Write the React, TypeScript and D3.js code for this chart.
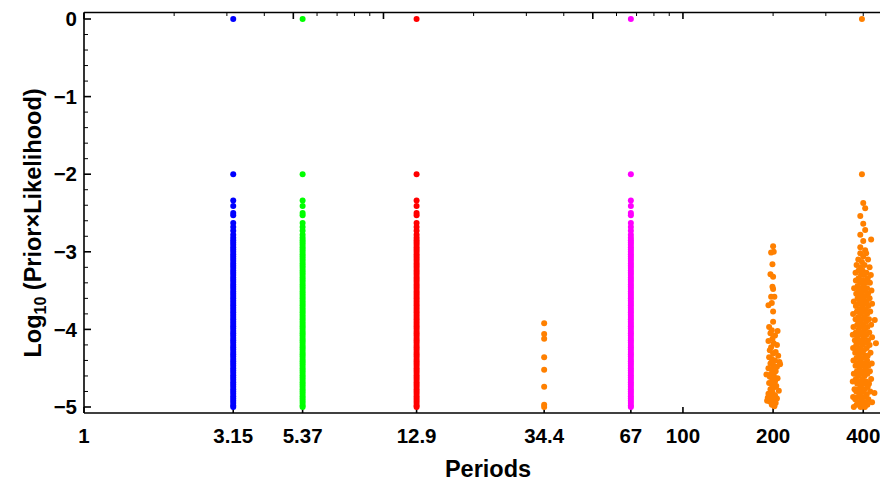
import React from "react";
import * as d3 from "d3";

// ---- data ----
const xTickValues = [1, 3.15, 5.37, 12.9, 34.4, 67, 100, 200, 400];
const xTickLabels = ["1", "3.15", "5.37", "12.9", "34.4", "67", "100", "200", "400"];
const yTickValues = [0, -1, -2, -3, -4, -5];

const columnPeriods = [3.15, 5.37, 12.9, 67];
const columnColors = ["#0000ff", "#00ff00", "#ff0000", "#ff00ff"];
const columnValues = [
  0, -2, -2.34, -2.41, -2.5, -2.53, -2.63, -2.68, -2.73, -2.78, -2.82, -2.85, -2.88,
  -2.91, -2.94, -2.97, -3.0, -3.03, -3.06, -3.09, -3.12, -3.15, -3.18, -3.21, -3.24,
  -3.27, -3.3, -3.33, -3.36, -3.39, -3.42, -3.45, -3.48, -3.51, -3.54, -3.57, -3.6,
  -3.63, -3.66, -3.69, -3.72, -3.75, -3.78, -3.81, -3.84, -3.87, -3.9, -3.93, -3.96,
  -3.99, -4.02, -4.05, -4.08, -4.11, -4.14, -4.17, -4.2, -4.23, -4.26, -4.29, -4.32,
  -4.35, -4.38, -4.41, -4.44, -4.47, -4.5, -4.53, -4.56, -4.59, -4.62, -4.65, -4.68,
  -4.71, -4.74, -4.77, -4.8, -4.83, -4.86, -4.89, -4.92, -4.95, -4.98, -5.0,
];

const orangeColor = "#ff8000";
const orange34Values = [-3.92, -4.06, -4.12, -4.36, -4.52, -4.74, -4.97, -5.0];

const orange200Points: [number, number][] = [
  [200, -2.93], [197, -3.01], [201, -3.0], [199, -3.16], [196, -3.29], [200, -3.32],
  [199, -3.45], [200, -3.48], [197, -3.58], [202, -3.58], [193, -3.69], [198, -3.66],
  [200, -3.77], [200, -3.9], [194, -3.97], [198, -4.01],
  [196, -4.05], [203, -4.08], [199, -4.12], [193, -4.15], [201, -4.18], [206, -4.2],
  [197, -4.23], [195, -4.27], [204, -4.29], [200, -4.31], [208, -4.34], [194, -4.36],
  [198, -4.38], [203, -4.4], [210, -4.42], [196, -4.44], [200, -4.46], [206, -4.48],
  [193, -4.5], [199, -4.52], [204, -4.54], [197, -4.57], [201, -4.59], [195, -4.61],
  [207, -4.63], [199, -4.65], [203, -4.67], [194, -4.69], [198, -4.71], [205, -4.73],
  [201, -4.75], [196, -4.77], [209, -4.79], [199, -4.81], [193, -4.83], [203, -4.85],
  [197, -4.87], [206, -4.89], [200, -4.91], [195, -4.93], [204, -4.95], [198, -4.97],
  [202, -4.99], [192, -4.88], [211, -4.45], [190, -4.58], [207, -4.02], [191, -4.92],
];

const orange400Points: [number, number][] = [
  [396, 0], [396, -2],
  [400, -2.37], [406, -2.44], [391, -2.54], [400, -2.64], [406, -2.72], [391, -2.78],
  [400, -2.86], [425, -2.84], [391, -2.94], [406, -2.98],
  [391, -3.02], [409, -3.02], [400, -3.06], [385, -3.1], [415, -3.1], [396, -3.13],
  [404, -3.17], [380, -3.17], [420, -3.2], [392, -3.2], [398, -3.24], [386, -3.24],
  [410, -3.27], [377, -3.27], [393, -3.3], [402, -3.3], [424, -3.3], [386, -3.34],
  [414, -3.34], [399, -3.37], [378, -3.37], [407, -3.4], [392, -3.4], [421, -3.4],
  [383, -3.44], [401, -3.44], [412, -3.47], [394, -3.47], [373, -3.47], [404, -3.5],
  [387, -3.5], [426, -3.5], [396, -3.54], [379, -3.54], [415, -3.54], [408, -3.57],
  [390, -3.57], [383, -3.6], [400, -3.6], [420, -3.6], [372, -3.64], [393, -3.64],
  [411, -3.64], [404, -3.67], [386, -3.67], [428, -3.67], [397, -3.7], [378, -3.7],
  [416, -3.7], [389, -3.74], [407, -3.74], [381, -3.77], [400, -3.77], [422, -3.77],
  [370, -3.8], [393, -3.8], [412, -3.8], [404, -3.84], [385, -3.84], [437, -3.88],
  [396, -3.87], [377, -3.87], [418, -3.87], [409, -3.9], [389, -3.9], [382, -3.94],
  [400, -3.94], [425, -3.94], [371, -3.97], [393, -3.97], [413, -3.97], [405, -4.0],
  [386, -4.0], [398, -4.04], [378, -4.04], [419, -4.04], [389, -4.07], [410, -4.07],
  [369, -4.07], [402, -4.1], [382, -4.1], [428, -4.1], [394, -4.14], [375, -4.14],
  [415, -4.14], [406, -4.17], [387, -4.17], [441, -4.18], [398, -4.2], [379, -4.2],
  [420, -4.2], [390, -4.24], [411, -4.24], [370, -4.24], [402, -4.27], [383, -4.27],
  [395, -4.3], [376, -4.3], [423, -4.3], [407, -4.34], [388, -4.34], [414, -4.34],
  [399, -4.37], [380, -4.37], [391, -4.4], [412, -4.4], [371, -4.4], [403, -4.44],
  [384, -4.44], [427, -4.44], [396, -4.47], [377, -4.47], [416, -4.47], [408, -4.5],
  [389, -4.5], [400, -4.54], [381, -4.54], [421, -4.54], [392, -4.57], [413, -4.57],
  [372, -4.57], [404, -4.6], [385, -4.6], [397, -4.64], [378, -4.64], [425, -4.64],
  [409, -4.67], [390, -4.67], [369, -4.67], [401, -4.7], [382, -4.7], [418, -4.7],
  [393, -4.74], [414, -4.74], [405, -4.77], [386, -4.77], [374, -4.77], [398, -4.8],
  [379, -4.8], [422, -4.8], [390, -4.84], [411, -4.84], [436, -4.82], [402, -4.87],
  [383, -4.87], [370, -4.87], [395, -4.9], [416, -4.9], [376, -4.9], [407, -4.94],
  [388, -4.94], [428, -4.94], [399, -4.97], [380, -4.97], [413, -4.97], [392, -5.0],
  [372, -5.0], [405, -5.0],
];

// ---- layout ----
const W = 880;
const H = 485;
const left = 84;
const right = 880;
const top = 12.5;
const bottom = 413;
const FONT = "'Liberation Sans', Arial, Helvetica, sans-serif";

export default function App() {
  const x = d3.scaleLog().domain([1, 455]).range([left, right]);
  const y = d3.scaleLinear().domain([-5, 0]).range([407, 19]);

  const topTicks: { v: number; major: boolean }[] = [];
  [1, 10, 100].forEach((dec) => {
    for (let k = 1; k <= 9; k++) {
      const v = dec * k;
      if (x(v) <= right) topTicks.push({ v, major: k === 1 || k === 5 });
    }
  });
  const yMinor = d3.range(-25, 1).map((i) => i / 5).filter((v) => Math.abs(v - Math.round(v)) > 1e-6);

  const r = 3;
  const fmt = (v: number) => (v === 0 ? "0" : "\u2212" + Math.abs(v));

  return (
    <svg
      width={W}
      height={H}
      style={{ position: "fixed", left: 0, top: 0, background: "#fff" }}
      fontFamily={FONT}
    >
      <rect x={0} y={0} width={W} height={H} fill="#fff" />
      <g stroke="#000" strokeWidth={1.6} fill="none">
        <line x1={left} y1={top} x2={left} y2={bottom} />
        <line x1={left} y1={bottom} x2={right} y2={bottom} />
        <line x1={left} y1={top} x2={right} y2={top} />
      </g>
      <g stroke="#000">
        {topTicks.map((t, i) => (
          <line
            key={i}
            x1={x(t.v)}
            x2={x(t.v)}
            y1={top}
            y2={top + (t.major ? 6.5 : 3.5)}
            strokeWidth={t.major ? 1.6 : 1}
          />
        ))}
      </g>
      <g stroke="#000">
        {yTickValues.map((v) => (
          <line key={"M" + v} x1={left} x2={left + 7} y1={y(v)} y2={y(v)} strokeWidth={1.6} />
        ))}
        {yMinor.map((v, i) => (
          <line key={"m" + i} x1={left} x2={left + 4} y1={y(v)} y2={y(v)} strokeWidth={1} />
        ))}
      </g>
      <g stroke="#000">
        {xTickValues.map((v) => (
          <line key={v} x1={x(v)} x2={x(v)} y1={bottom} y2={bottom - 6} strokeWidth={1.6} />
        ))}
      </g>
      <g fontSize={20.5} fontWeight="bold" fill="#000">
        {xTickValues.map((v, i) => (
          <text key={v} x={x(v)} y={443} textAnchor="middle">
            {xTickLabels[i]}
          </text>
        ))}
        {yTickValues.map((v) => (
          <text key={v} x={77} y={y(v)} dy="0.35em" textAnchor="end">
            {fmt(v)}
          </text>
        ))}
      </g>
      <text x={488} y={477} textAnchor="middle" fontSize={23.5} fontWeight="bold">
        Periods
      </text>
      <text
        transform="translate(41,223) rotate(-90)"
        textAnchor="middle"
        fontSize={23.5}
        fontWeight="bold"
      >
        Log
        <tspan fontSize={16} dy={5}>10</tspan>
        <tspan dy={-5}> (Prior×Likelihood)</tspan>
      </text>
      {columnPeriods.map((p, ci) => (
        <g key={p} fill={columnColors[ci]}>
          {columnValues.map((v, i) => (
            <circle key={i} cx={x(p)} cy={y(v)} r={r} />
          ))}
        </g>
      ))}
      <g fill={orangeColor}>
        {orange34Values.map((v, i) => (
          <circle key={"a" + i} cx={x(34.4)} cy={y(v)} r={r} />
        ))}
        {orange200Points.map(([p, v], i) => (
          <circle key={"b" + i} cx={x(p)} cy={y(v)} r={r} />
        ))}
        {orange400Points.map(([p, v], i) => (
          <circle key={"c" + i} cx={x(p)} cy={y(v)} r={r} />
        ))}
      </g>
    </svg>
  );
}
